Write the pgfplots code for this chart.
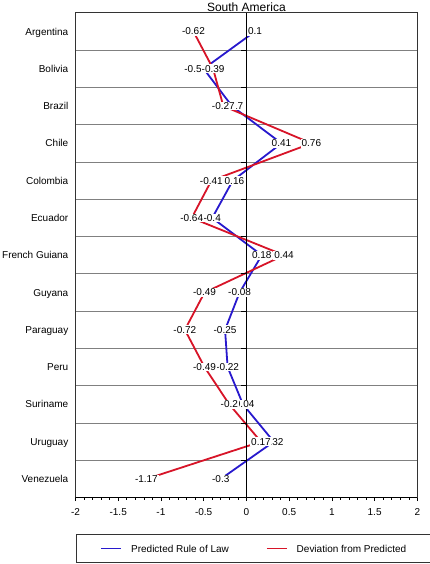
\documentclass[border=0pt]{standalone}
\usepackage{pgfplots}
\usepackage{pgfplotstable}
\pgfplotsset{compat=1.18}
\usepackage{fontspec}
\setmainfont{Liberation Sans}
\definecolor{pblue}{RGB}{40,25,205}
\definecolor{pred}{RGB}{215,20,40}
\definecolor{gridgray}{RGB}{128,128,128}

% y: row, pred: predicted rule of law, dev: deviation from predicted,
% lx: where the label of the predicted value sits
\pgfplotstableread{
y pred dev lx
1 0.1 -0.62 0.1
2 -0.5 -0.39 -0.625
3 -0.17 -0.27 -0.17
4 0.41 0.76 0.41
5 -0.16 -0.41 -0.16
6 -0.4 -0.64 -0.4
7 0.18 0.44 0.18
8 -0.08 -0.49 -0.08
9 -0.25 -0.72 -0.25
10 -0.22 -0.49 -0.22
11 -0.04 -0.2 -0.04
12 0.32 0.17 0.32
13 -0.3 -1.17 -0.3
}\data

\begin{document}
\begin{tikzpicture}
\useasboundingbox (-75.5bp,-66.4bp) rectangle (354.5bp,497.8bp);
\begin{axis}[
  scale only axis, width=342bp, height=485bp,
  at={(0,0)}, anchor=south west,
  xmin=-2, xmax=2, ymin=0.5, ymax=13.5, y dir=reverse,
  xtick={-2,-1.5,-1,-0.5,0,0.5,1,1.5,2},
  xticklabels={-2,-1.5,-1,-0.5,0,0.5,1,1.5,2},
  minor x tick num=4,
  xtick pos=bottom,
  ytick={1,...,13},
  yticklabels={Argentina,Bolivia,Brazil,Chile,Colombia,Ecuador,French Guiana,Guyana,Paraguay,Peru,Suriname,Uruguay,Venezuela},
  minor ytick={1.5,2.5,...,12.5},
  yminorgrids=true,
  minor grid style={gridgray, line width=0.8bp},
  ytick style={draw=none},
  tick align=outside,
  major tick length=3.5bp, minor tick length=2bp,
  xtick style={black, line width=0.6bp},
  axis line style={black!80, line width=0.8bp},
  ticklabel style={font=\fontsize{10bp}{12bp}\selectfont},
  xticklabel style={anchor=base, inner sep=0pt, yshift=-14.5bp},
  yticklabel style={anchor=base east, inner sep=0pt, xshift=-3.5bp, yshift=-3.6bp},
  title={South America},
  every axis title shift=0pt,
  title style={font=\fontsize{12bp}{14bp}\selectfont, at={(0.5,1)}, anchor=base, yshift=1.5bp, inner sep=0pt},
  legend columns=2,
  legend style={at={(0,0)}, anchor=north west, xshift=0.5bp, yshift=-36.4bp,
    draw=black!80, line width=0.8bp, inner xsep=24bp, inner ysep=10.4bp,
    font=\fontsize{10bp}{12bp}\selectfont,
    nodes={inner sep=0pt, text height=7.2bp, text depth=0pt, anchor=base west},
    /tikz/every odd column/.append style={column sep=9bp},
    /tikz/every even column/.append style={column sep=37bp}},
  legend image code/.code={\draw[#1, line width=1.8bp] (0bp,3.6bp) -- (20bp,3.6bp);},
]
\addplot[pblue, line width=1.8bp] table[x=pred,y=y] {\data};
\addlegendentry{Predicted Rule of Law}
\addplot[pred, line width=1.8bp] table[x=dev,y=y] {\data};
\addlegendentry{Deviation from Predicted}
\addplot[forget plot, only marks, mark=*, mark options={draw=none,fill=none},
  nodes near coords, point meta=explicit symbolic,
  every node near coord/.style={anchor=center, fill=white, inner sep=0.8bp, text=black, font=\fontsize{10bp}{12bp}\selectfont}]
  table[x=lx,y=y,meta=pred] {\data};
\addplot[forget plot, only marks, mark=*, mark options={draw=none,fill=none},
  nodes near coords, point meta=explicit symbolic,
  every node near coord/.style={anchor=center, fill=white, inner sep=0.8bp, text=black, font=\fontsize{10bp}{12bp}\selectfont}]
  table[x=dev,y=y,meta=dev] {\data};
\draw[black, line width=0.8bp] (axis cs:0,0.5) -- (axis cs:0,13.5);
\pgfplotsinvokeforeach{1.5,2.5,...,12.5}{\draw[black, line width=0.8bp] (axis cs:0,#1) -- ([xshift=-5bp]axis cs:0,#1);}
\draw[black, line width=1.6bp] (axis cs:-2,13.5) -- (axis cs:2,13.5);
\end{axis}
\end{tikzpicture}
\end{document}
